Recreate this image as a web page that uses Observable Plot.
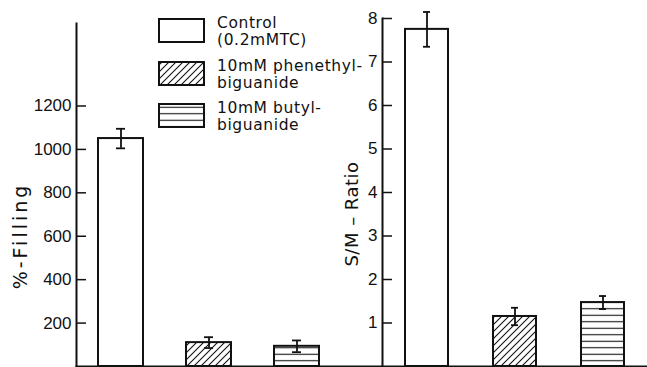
<!DOCTYPE html>
<html><head><meta charset="utf-8">
<script src="https://cdn.jsdelivr.net/npm/d3@7"></script>
<script src="https://cdn.jsdelivr.net/npm/@observablehq/plot@0.6"></script>
<style>
html,body{margin:0;padding:0;background:#fff;}
#wrap{position:relative;width:647px;height:367px;overflow:hidden;background:#fff;}
#wrap > svg{position:absolute;top:0;}
</style></head><body><div id="wrap"></div>
<script>
// ---- data ----
const categories = ["Control (0.2mMTC)", "10mM phenethyl-biguanide", "10mM butyl-biguanide"];
const legendLine1 = ["Control", "10mM phenethyl-", "10mM butyl-"];
const legendLine2 = ["(0.2mMTC)", "biguanide", "biguanide"];
const fillingMean = [1050, 110, 93];
const fillingErr = [45, 25, 27];
const fillingTicks = [200, 400, 600, 800, 1000, 1200];
const ratioMean = [7.75, 1.15, 1.47];
const ratioErr = [0.4, 0.2, 0.15];
const ratioTicks = [1, 2, 3, 4, 5, 6, 7, 8];
const leftLabel = "%-Filling";
const rightLabel = "S/M – Ratio";

// ---- styling ----
const INK = "#111";
const fills = ["white", "url(#hatch)", "url(#hlines)"];
const wrap = document.getElementById("wrap");

// overlay svg: pattern defs, legend, axis titles
const ov = d3.create("svg").attr("width", 647).attr("height", 367)
  .style("left", "0px").style("top", "0px").style("position", "absolute").style("pointer-events", "none");
const defs = ov.append("defs");
defs.append("pattern").attr("id", "hatch").attr("patternUnits", "userSpaceOnUse")
  .attr("width", 7).attr("height", 7)
  .append("path").attr("d", "M-1,1 l2,-2 M0,7 l7,-7 M6,8 l2,-2")
  .attr("stroke", INK).attr("stroke-width", 1.1);
defs.append("pattern").attr("id", "hlines").attr("patternUnits", "userSpaceOnUse")
  .attr("width", 8).attr("height", 6.5)
  .append("path").attr("d", "M0,3.25 H8").attr("stroke", INK).attr("stroke-width", 1.1);

const legTops = [19, 62, 104];
categories.forEach((c, i) => {
  ov.append("rect").attr("x", 159).attr("y", legTops[i]).attr("width", 45).attr("height", 23)
    .attr("fill", fills[i]).attr("stroke", INK).attr("stroke-width", 2);
  const t = ov.append("text").attr("font-family", "DejaVu Sans").attr("font-size", 15.5)
    .attr("letter-spacing", 0.6).attr("fill", INK);
  t.append("tspan").attr("x", 217).attr("y", legTops[i] + 3.5).attr("dy", "0.35em").text(legendLine1[i]);
  t.append("tspan").attr("x", 217).attr("y", legTops[i] + 21).attr("dy", "0.35em").text(legendLine2[i]);
});
ov.append("text").attr("transform", "translate(20,236) rotate(-90)")
  .attr("text-anchor", "middle").attr("dy", "0.35em")
  .attr("font-family", "DejaVu Sans").attr("font-size", 19).attr("letter-spacing", 3)
  .attr("fill", INK).text(leftLabel);
ov.append("text").attr("transform", "translate(352,214) rotate(-90)")
  .attr("text-anchor", "middle").attr("dy", "0.35em")
  .attr("font-family", "DejaVu Sans").attr("font-size", 18).attr("letter-spacing", 0.5)
  .attr("fill", INK).text(rightLabel);

const leftData = categories.map((c, i) => ({cat: c, mean: fillingMean[i], err: fillingErr[i]}));
const rightData = categories.map((c, i) => ({cat: c, mean: ratioMean[i], err: ratioErr[i]}));

function panel(data, ticks, o) {
  const frameW = o.width - o.ml;
  return Plot.plot({
    width: o.width, height: 367, marginLeft: o.ml, marginRight: 0, marginTop: o.mt, marginBottom: 1,
    style: {background: "transparent", fontFamily: "Liberation Sans", fontSize: "17px", color: INK},
    x: {domain: categories, paddingInner: o.pi, paddingOuter: o.po, insetRight: o.insetRight, axis: null},
    y: {domain: o.domain, axis: null},
    color: {domain: categories, range: fills},
    marks: [
      Plot.frame({anchor: "left", stroke: INK, strokeWidth: 2}),
      Plot.frame({anchor: "bottom", stroke: INK, strokeWidth: 2}),
      Plot.tickY(ticks, {y: d => d, insetRight: frameW - 10, stroke: INK, strokeWidth: 1.5}),
      Plot.axisY(ticks, {tickSize: 0, tickPadding: 5, label: null, fill: INK, tickFormat: d => String(d)}),
      Plot.barY(data, {x: "cat", y: "mean", fill: "cat", stroke: INK, strokeWidth: 2}),
      Plot.ruleX(data, {x: "cat", y1: d => d.mean - d.err, y2: d => d.mean + d.err, stroke: INK, strokeWidth: 1.8}),
      Plot.tickY(data, {x: "cat", y: d => d.mean + d.err, insetLeft: 18, insetRight: 18, stroke: INK, strokeWidth: 1.8}),
      Plot.tickY(data, {x: "cat", y: d => d.mean - d.err, insetLeft: 18, insetRight: 18, stroke: INK, strokeWidth: 1.8})
    ]
  });
}

const left = panel(leftData, fillingTicks,
  {width: 382, ml: 76, mt: 23, pi: 0.49, po: 0.24, insetRight: 42, domain: [0, 1580]});
left.style.left = "0px";
const right = panel(rightData, ratioTicks,
  {width: 347, ml: 82, mt: 18, pi: 0.51, po: 0.26, insetRight: 0, domain: [0, 8]});
right.style.left = "300px";

wrap.appendChild(left);
wrap.appendChild(right);
wrap.appendChild(ov.node());
</script></body></html>
